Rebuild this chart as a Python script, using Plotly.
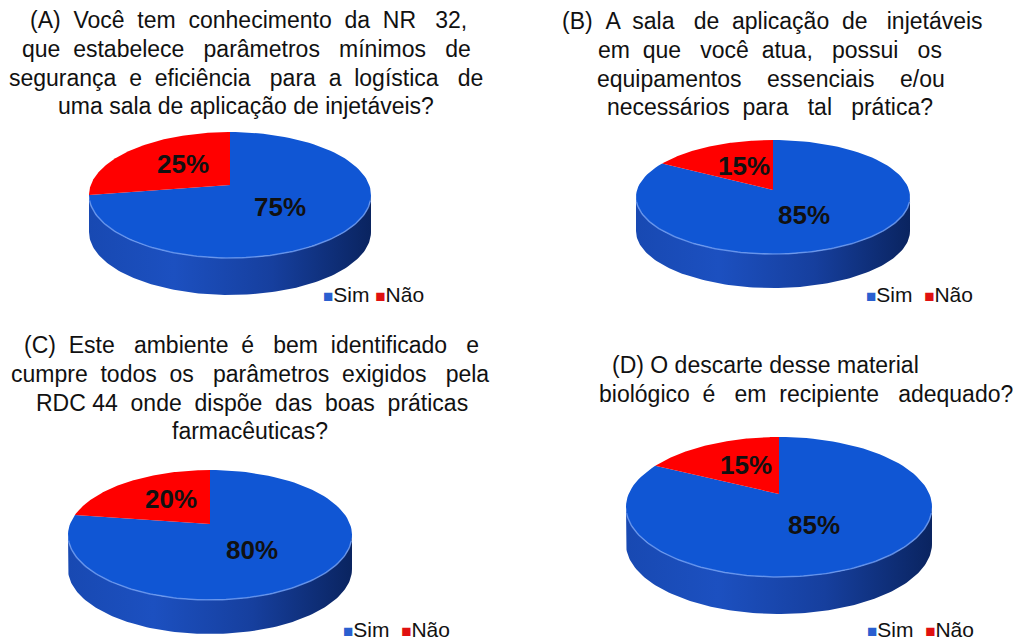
import numpy as np
import plotly.graph_objects as go

# ---------------- data ----------------
categories = ["Sim", "Não"]
panels = ["A", "B", "C", "D"]
sim_values = [75, 85, 80, 85]
nao_values = [25, 15, 20, 15]
title_lines = [
    ["(A) Você tem conhecimento da NR 32,", "que estabelece parâmetros mínimos de",
     "segurança e eficiência para a logística de", "uma sala de aplicação de injetáveis?"],
    ["(B) A sala de aplicação de injetáveis", "em que você atua, possui os",
     "equipamentos essenciais e/ou", "necessários para tal prática?"],
    ["(C) Este ambiente é bem identificado e", "cumpre todos os parâmetros exigidos pela",
     "RDC 44 onde dispõe das boas práticas", "farmacêuticas?"],
    ["(D) O descarte desse material", "biológico é em recipiente adequado?"],
]

# ---------------- styling / layout geometry (pixels of the 1021x642 page) ----------------
W, H = 1021, 642
OFF = 8  # body margin of the html page
BLUE_TOP = "#1056d4"
RED_TOP = "#ff0000"
SIDE_SCALE = [[0, "#1849b2"], [0.3, "#1c50c0"], [0.65, "#163f9e"], [1, "#0a2460"]]
FONT = "Liberation Sans, Arial, sans-serif"
TITLE_SIZE = 23

geom = [
    dict(cx=230, cy=195, rx=141, ry=63, d=37, off=10),
    dict(cx=773, cy=197, rx=137, ry=57, d=34, off=7),
    dict(cx=210, cy=535, rx=142, ry=65, d=34, off=11),
    dict(cx=779, cy=507, rx=153, ry=70, d=37, off=13),
]
# title: center x, y of first line, target width of each line (justified text box)
title_cfg = [
    dict(x=[248, 246, 246, 246], y0=20, widths=[440, 448, 476, 0]),
    dict(x=[772, 770, 771, 770], y0=21, widths=[421, 344, 350, 325]),
    dict(x=[251, 250, 252, 250], y0=345, widths=[458, 480, 435, 0]),
    dict(x=[765, 806], y0=365, widths=[0, 417]),
]
LINE_H = 28.8
legend_pos = [(321, 294), (864, 294), (341, 629), (865, 629)]
legend_gap = ["\u00a0", " \u00a0", " \u00a0", " \u00a0"]

ARIAL = {" ": 278, "(": 333, ")": 333, ",": 278, "?": 556, "/": 278, ".": 278,
         "A": 667, "B": 667, "C": 722, "D": 722, "N": 722, "R": 722, "V": 667, "O": 778, "E": 667,
         "a": 556, "b": 556, "c": 500, "d": 556, "e": 556, "f": 278, "g": 556, "h": 556, "i": 222,
         "j": 222, "k": 500, "l": 222, "m": 833, "n": 556, "o": 556, "p": 556, "q": 556, "r": 333,
         "s": 500, "t": 278, "u": 556, "v": 500, "w": 722, "x": 500, "y": 500, "z": 500,
         "á": 556, "â": 556, "ã": 556, "é": 556, "ê": 556, "í": 278, "ó": 556, "ô": 556,
         "õ": 556, "ú": 556, "ç": 500}


def text_width(s, size):
    return sum(ARIAL.get(ch, 556) for ch in s) * size / 1000.0


def justify(line, target, size):
    """Spread words to fill the target width (the reference uses justified text)."""
    words = line.split(" ")
    gaps = len(words) - 1
    if target <= 0 or gaps == 0:
        return line
    total = int(round(max(0.0, target - text_width(line, size)) / (0.278 * size)))
    out = words[0]
    for k in range(gaps):
        n = (total * (k + 1)) // gaps - (total * k) // gaps
        out += " " + "\u00a0" * n + words[k + 1]
    return out


def arc(g, t0, t1, n=120, dy=0.0):
    t = np.radians(np.linspace(t0, t1, n))
    return g["cx"] + g["rx"] * np.sin(t), g["cy"] - g["ry"] * np.cos(t) + dy


fig = go.Figure()
annotations = []

for i, g in enumerate(geom):
    sim, nao = sim_values[i], nao_values[i]
    total = sim + nao
    # side (front half of the cylinder)
    xs1, ys1 = arc(g, 90, 270)
    xs2, ys2 = arc(g, 270, 90, dy=g["d"])
    fig.add_trace(go.Scatter(
        x=np.concatenate([xs1, xs2, xs1[:1]]), y=np.concatenate([ys1, ys2, ys1[:1]]),
        mode="lines", fill="toself", line=dict(width=0, color="#163f9e"),
        fillgradient=dict(type="horizontal", colorscale=SIDE_SCALE),
        hoverinfo="skip", showlegend=False))
    vx, vy = g["cx"], g["cy"] - g["off"]
    # top face wedges: Sim clockwise from 12 o'clock, Não the remainder
    a_sim = 360.0 * sim / total
    for (t0, t1, col, val, frac) in [(0, a_sim, BLUE_TOP, sim, 0.5), (a_sim, 360, RED_TOP, nao, 0.47)]:
        ax, ay = arc(g, t0, t1)
        fig.add_trace(go.Scatter(
            x=np.concatenate([[vx], ax, [vx]]), y=np.concatenate([[vy], ay, [vy]]),
            mode="lines", fill="toself", fillcolor=col, line=dict(width=0, color=col),
            hoverinfo="skip", showlegend=False))
        tm = np.radians((t0 + t1) / 2)
        annotations.append(dict(
            x=vx + g["rx"] * np.sin(tm) * frac, y=vy - g["ry"] * np.cos(tm) * frac,
            text=f"<b>{val}%</b>", showarrow=False,
            font=dict(family=FONT, size=26, color="#111111")))
    # bevel highlight on front rim
    hx, hy = arc(g, 95, 265)
    fig.add_trace(go.Scatter(x=hx, y=hy, mode="lines",
                             line=dict(width=1.5, color="rgba(110,155,240,0.8)"),
                             hoverinfo="skip", showlegend=False))

    # title lines
    cfg = title_cfg[i]
    for k, line in enumerate(title_lines[i]):
        annotations.append(dict(
            x=cfg["x"][k], y=cfg["y0"] + k * LINE_H,
            text=justify(line, cfg["widths"][k], TITLE_SIZE), showarrow=False,
            font=dict(family=FONT, size=TITLE_SIZE, color="#111111")))

    # legend
    lx, ly = legend_pos[i]
    sq = "<span style='font-size:17px;color:{c}'>■</span>"
    txt = (sq.format(c="#2a5fd0") + categories[0] + legend_gap[i] +
           sq.format(c="#e01010") + categories[1])
    annotations.append(dict(x=lx, y=ly, text=txt, showarrow=False, xanchor="left",
                            font=dict(family=FONT, size=21, color="#111111")))

fig.update_layout(
    width=W, height=H, margin=dict(l=0, r=0, t=0, b=0),
    paper_bgcolor="white", plot_bgcolor="white", showlegend=False,
    xaxis=dict(range=[OFF, W + OFF], visible=False, fixedrange=True),
    yaxis=dict(range=[H + OFF, OFF], visible=False, fixedrange=True),
    annotations=annotations,
)
fig.write_html("out.html")
